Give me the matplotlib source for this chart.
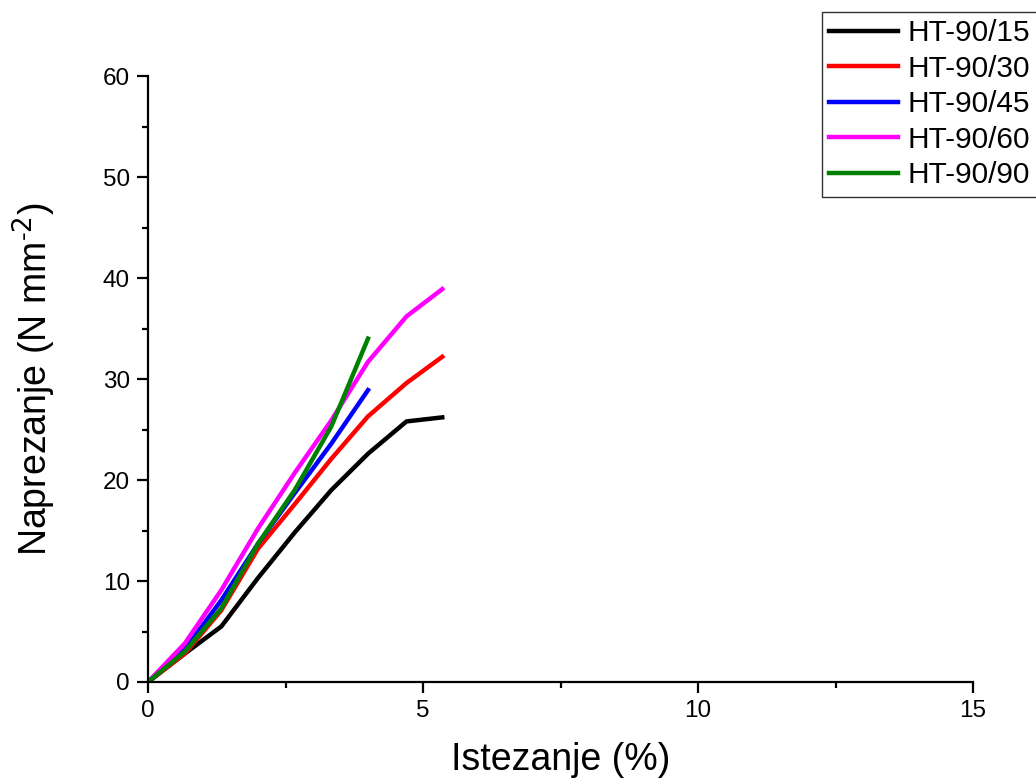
import matplotlib
matplotlib.use("Agg")
import matplotlib.pyplot as plt
from matplotlib.ticker import MultipleLocator

plt.rcParams['font.family'] = ['Liberation Sans', 'DejaVu Sans']

# strain (%) steps shared by the curves
strain = [0, 0.667, 1.333, 2.0, 2.667, 3.333, 4.0, 4.7, 5.35]

ht15 = [0, 2.8, 5.5, 10.3, 14.8, 19.0, 22.6, 25.8, 26.2]
ht30 = [0, 2.8, 7.1, 13.2, 17.6, 22.1, 26.3, 29.6, 32.2]
ht45 = [0, 3.2, 8.1, 13.7, 18.7, 23.6, 28.9]
ht60 = [0, 3.8, 9.1, 15.2, 20.7, 25.9, 31.7, 36.2, 38.9]
ht90 = [0, 3.0, 7.3, 13.7, 19.0, 25.3, 34.0]

labels = ['HT-90/15', 'HT-90/30', 'HT-90/45', 'HT-90/60', 'HT-90/90']
colors = ['black', 'red', 'blue', 'magenta', 'green']
series = [ht15, ht30, ht45, ht60, ht90]

fig = plt.figure(figsize=(10.36, 7.83), dpi=100)
ax = fig.add_axes([148/1036, 101/783, 825/1036, 606/783])

for ys, c, lab in zip(series, colors, labels):
    ax.plot(strain[:len(ys)], ys, color=c, lw=3.2, label=lab)

ax.set_xlim(0, 15)
ax.set_ylim(0, 60)
ax.xaxis.set_major_locator(MultipleLocator(5))
ax.xaxis.set_minor_locator(MultipleLocator(2.5))
ax.yaxis.set_major_locator(MultipleLocator(10))
ax.yaxis.set_minor_locator(MultipleLocator(5))
ax.spines['top'].set_visible(False)
ax.spines['right'].set_visible(False)
for s in ['left', 'bottom']:
    ax.spines[s].set_linewidth(1.6)
ax.tick_params(which='major', length=8, width=1.6, labelsize=17.5, direction='out', pad=5)
ax.tick_params(which='minor', length=4, width=1.6, direction='out')

ax.set_xlabel('Istezanje (%)', fontsize=27, labelpad=14)
ax.set_ylabel('Naprezanje (N mm$^{\\mathregular{\u2010}2}$)', fontsize=27, labelpad=32)

fig.legend(loc='upper left', bbox_to_anchor=(822/1036, 1 - 12/783),
           fontsize=21.5, frameon=True, fancybox=False, edgecolor='black',
           handlelength=2.3, labelspacing=0.25, borderpad=0.25, borderaxespad=0,
           handletextpad=0.3)

fig.savefig('out.png', dpi=100)
